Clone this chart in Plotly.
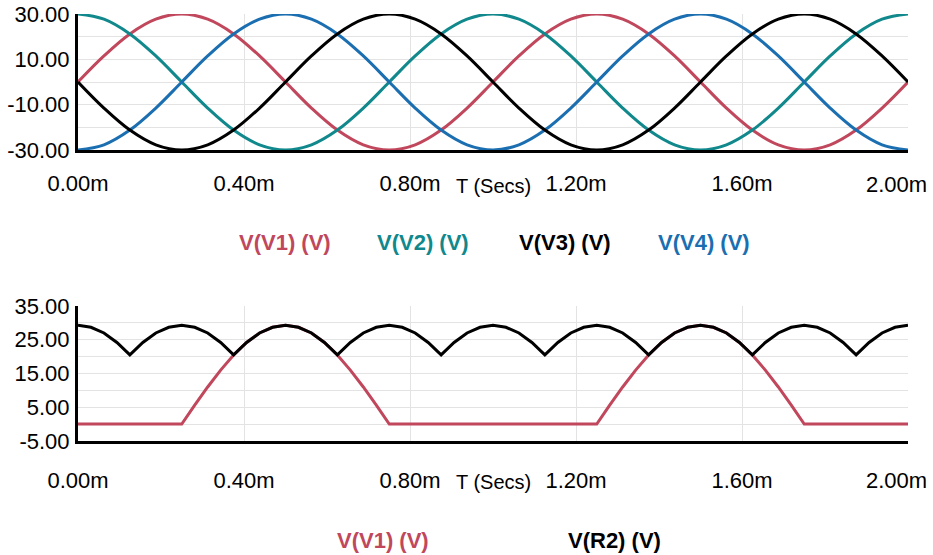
import plotly.graph_objects as go

W, H = 933, 555

# --- top panel: four phase-shifted sources, sampled every 0.0625 ms ---
t_ms = [0.0, 0.0625, 0.125, 0.1875, 0.25, 0.3125, 0.375, 0.4375,
        0.5, 0.5625, 0.625, 0.6875, 0.75, 0.8125, 0.875, 0.9375,
        1.0, 1.0625, 1.125, 1.1875, 1.25, 1.3125, 1.375, 1.4375,
        1.5, 1.5625, 1.625, 1.6875, 1.75, 1.8125, 1.875, 1.9375, 2.0]

v1 = [0, 11.5, 21.2, 27.7, 30, 27.7, 21.2, 11.5,
      0, -11.5, -21.2, -27.7, -30, -27.7, -21.2, -11.5,
      0, 11.5, 21.2, 27.7, 30, 27.7, 21.2, 11.5,
      0, -11.5, -21.2, -27.7, -30, -27.7, -21.2, -11.5, 0]
v2 = [30, 27.7, 21.2, 11.5, 0, -11.5, -21.2, -27.7,
      -30, -27.7, -21.2, -11.5, 0, 11.5, 21.2, 27.7,
      30, 27.7, 21.2, 11.5, 0, -11.5, -21.2, -27.7,
      -30, -27.7, -21.2, -11.5, 0, 11.5, 21.2, 27.7, 30]
v3 = [0, -11.5, -21.2, -27.7, -30, -27.7, -21.2, -11.5,
      0, 11.5, 21.2, 27.7, 30, 27.7, 21.2, 11.5,
      0, -11.5, -21.2, -27.7, -30, -27.7, -21.2, -11.5,
      0, 11.5, 21.2, 27.7, 30, 27.7, 21.2, 11.5, 0]
v4 = [-30, -27.7, -21.2, -11.5, 0, 11.5, 21.2, 27.7,
      30, 27.7, 21.2, 11.5, 0, -11.5, -21.2, -27.7,
      -30, -27.7, -21.2, -11.5, 0, 11.5, 21.2, 27.7,
      30, 27.7, 21.2, 11.5, 0, -11.5, -21.2, -27.7, -30]

# --- bottom panel: rectified output and V1 node, sampled every 0.03125 ms ---
t2_ms = [0.0, 0.03125, 0.0625, 0.09375, 0.125, 0.15625, 0.1875, 0.21875,
         0.25, 0.28125, 0.3125, 0.34375, 0.375, 0.40625, 0.4375, 0.46875,
         0.5, 0.53125, 0.5625, 0.59375, 0.625, 0.65625, 0.6875, 0.71875,
         0.75, 0.78125, 0.8125, 0.84375, 0.875, 0.90625, 0.9375, 0.96875,
         1.0, 1.03125, 1.0625, 1.09375, 1.125, 1.15625, 1.1875, 1.21875,
         1.25, 1.28125, 1.3125, 1.34375, 1.375, 1.40625, 1.4375, 1.46875,
         1.5, 1.53125, 1.5625, 1.59375, 1.625, 1.65625, 1.6875, 1.71875,
         1.75, 1.78125, 1.8125, 1.84375, 1.875, 1.90625, 1.9375, 1.96875, 2.0]

vr2 = [29.3, 28.7, 27.0, 24.2, 20.5, 24.2, 27.0, 28.7,
       29.3, 28.7, 27.0, 24.2, 20.5, 24.2, 27.0, 28.7,
       29.3, 28.7, 27.0, 24.2, 20.5, 24.2, 27.0, 28.7,
       29.3, 28.7, 27.0, 24.2, 20.5, 24.2, 27.0, 28.7,
       29.3, 28.7, 27.0, 24.2, 20.5, 24.2, 27.0, 28.7,
       29.3, 28.7, 27.0, 24.2, 20.5, 24.2, 27.0, 28.7,
       29.3, 28.7, 27.0, 24.2, 20.5, 24.2, 27.0, 28.7,
       29.3, 28.7, 27.0, 24.2, 20.5, 24.2, 27.0, 28.7, 29.3]

v1_out = [0, 0, 0, 0, 0, 0, 0, 0,
          0, 5.6, 11.0, 16.0, 20.5, 24.2, 27.0, 28.7,
          29.3, 28.7, 27.0, 24.2, 20.5, 16.0, 11.0, 5.6,
          0, 0, 0, 0, 0, 0, 0, 0,
          0, 0, 0, 0, 0, 0, 0, 0,
          0, 5.6, 11.0, 16.0, 20.5, 24.2, 27.0, 28.7,
          29.3, 28.7, 27.0, 24.2, 20.5, 16.0, 11.0, 5.6,
          0, 0, 0, 0, 0, 0, 0, 0, 0]

x_ticks = [0.0, 0.4, 0.8, 1.2, 1.6, 2.0]
x_tick_text = ["0.00m", "0.40m", "0.80m", "1.20m", "1.60m", "2.00m"]
top_y_ticks = [-30, -10, 10, 30]
top_y_text = ["-30.00", "-10.00", "10.00", "30.00"]
bot_y_ticks = [-5, 5, 15, 25, 35]
bot_y_text = ["-5.00", "5.00", "15.00", "25.00", "35.00"]

RED = "#C0475C"
TEAL = "#10888C"
BLUE = "#1B6FB1"
BLACK = "#000000"
GRID = "#E3E3E3"
FONT = "Liberation Sans, Arial, sans-serif"

fig = go.Figure()

for name, ys, col in [("V(V1) (V)", v1, RED), ("V(V2) (V)", v2, TEAL),
                      ("V(V4) (V)", v4, BLUE), ("V(V3) (V)", v3, BLACK)]:
    fig.add_trace(go.Scatter(x=t_ms, y=ys, mode="lines", name=name,
                             line=dict(color=col, width=3, shape="spline"),
                             xaxis="x", yaxis="y", showlegend=False))

fig.add_trace(go.Scatter(x=t2_ms, y=v1_out, mode="lines", name="V(V1) (V)",
                         line=dict(color=RED, width=3),
                         xaxis="x2", yaxis="y2", showlegend=False))
fig.add_trace(go.Scatter(x=t2_ms, y=vr2, mode="lines", name="V(R2) (V)",
                         line=dict(color=BLACK, width=3),
                         xaxis="x2", yaxis="y2", showlegend=False))

x0, x1 = 78 / W, 908 / W

# the final label would spill past the page edge when centred on its tick,
# so the axis leaves it blank and it is placed right-aligned further down
axis_tick_text = x_tick_text[:-1] + [""]


def xaxis_cfg(anchor, standoff):
    return dict(domain=[x0, x1], range=[0, 2.0], anchor=anchor,
                automargin=False,
                tickmode="array", tickvals=x_ticks, ticktext=axis_tick_text,
                showgrid=True, gridcolor=GRID, gridwidth=1,
                showline=True, linecolor=BLACK, linewidth=3, mirror=False,
                ticks="", zeroline=False, ticklabelstandoff=standoff,
                tickfont=dict(family=FONT, size=22, color=BLACK))


def yaxis_cfg(anchor, dom, rng, vals, text, minor_step):
    return dict(domain=dom, range=rng, anchor=anchor,
                automargin=False,
                tickmode="array", tickvals=vals, ticktext=text,
                showgrid=True, gridcolor=GRID, gridwidth=1,
                minor=dict(tick0=rng[0], dtick=minor_step, showgrid=True,
                           gridcolor=GRID, gridwidth=1, ticks=""),
                showline=True, linecolor=BLACK, linewidth=3, mirror=False,
                ticks="", zeroline=False, ticklabelstandoff=1,
                tickfont=dict(family=FONT, size=22, color=BLACK))


fig.update_layout(
    template="none",
    width=W, height=H,
    margin=dict(l=0, r=0, t=0, b=0),
    paper_bgcolor="white", plot_bgcolor="white",
    font=dict(family=FONT, color=BLACK),
    xaxis=xaxis_cfg("y", 12),
    yaxis=yaxis_cfg("x", [1 - 150 / H, 1 - 14 / H], [-30, 30],
                    top_y_ticks, top_y_text, 10),
    xaxis2=xaxis_cfg("y2", 18),
    yaxis2=yaxis_cfg("x2", [1 - 441 / H, 1 - 306 / H], [-5, 35],
                     bot_y_ticks, bot_y_text, 5),
)

for xr, yref, shift in [("x", "y domain", -34), ("x2", "y2 domain", -39)]:
    # last time label, kept inside the right edge
    fig.add_annotation(x=x_ticks[-1], xref=xr, y=0, yref=yref, yshift=shift,
                       xanchor="right", xshift=21, yanchor="middle",
                       text=x_tick_text[-1], showarrow=False,
                       font=dict(family=FONT, size=22, color=BLACK))
    # time-axis caption sitting between the 0.80m and 1.20m labels
    fig.add_annotation(x=1.0, xref=xr, y=0, yref=yref, yshift=shift - 2,
                       yanchor="middle", text="T (Secs)", showarrow=False,
                       font=dict(family=FONT, size=20, color=BLACK))

# coloured series captions under each panel
captions = [
    ("V(V1) (V)", RED, 285, 243), ("V(V2) (V)", TEAL, 423, 243),
    ("V(V3) (V)", BLACK, 565, 243), ("V(V4) (V)", BLUE, 704, 243),
    ("V(V1) (V)", RED, 383, 540), ("V(R2) (V)", BLACK, 614, 540),
]
for text, col, px, py in captions:
    fig.add_annotation(x=px / W, y=1 - py / H, xref="paper", yref="paper",
                       xanchor="center", yanchor="middle", showarrow=False,
                       text="<b>%s</b>" % text,
                       font=dict(family=FONT, size=22, color=col))

fig.write_html("out.html")
